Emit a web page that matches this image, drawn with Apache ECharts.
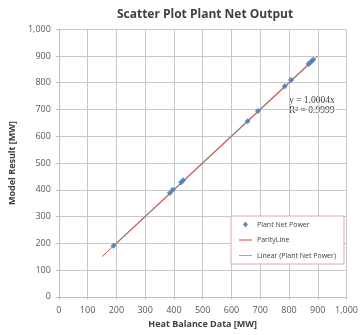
<!DOCTYPE html>
<html><head><meta charset="utf-8">
<script src="https://cdn.jsdelivr.net/npm/echarts@6/dist/echarts.min.js"></script>
<style>html,body{margin:0;padding:0;background:#fff}#c{width:361px;height:335px}</style>
</head><body><div id="c"></div>
<script>
const heatBalance = [190, 386, 396, 425, 432, 656, 692, 785, 807, 868, 874, 880, 884];
const modelResult = [191, 388, 400, 428, 436, 656, 694, 787, 810, 870, 876, 882, 886];
const parityX = [150, 900];
const trendSlope = 1.0004;
const axisTicks = [0, 100, 200, 300, 400, 500, 600, 700, 800, 900, 1000];

const pts = heatBalance.map((x, i) => [x, modelResult[i]]);
const parity = parityX.map(x => [x, x]);
const xmin = Math.min(...heatBalance), xmax = Math.max(...heatBalance);
const trend = [[xmin, xmin * trendSlope], [xmax, xmax * trendSlope]];
const fmt = v => v.toLocaleString('en-US');
const chart = echarts.init(document.getElementById('c'));
const axisCommon = {
  min: axisTicks[0], max: axisTicks[axisTicks.length - 1], interval: 100,
  axisLine: {show: true, lineStyle: {color: '#bfbfbf'}},
  axisTick: {show: true, length: 3, lineStyle: {color: '#bfbfbf'}},
  splitLine: {show: true, lineStyle: {color: '#c8c8c8', width: 1}},
  axisLabel: {color: '#595959', fontSize: 9, fontFamily: 'Open Sans', formatter: fmt},
  nameTextStyle: {color: '#404040', fontSize: 9, fontWeight: 'bold', fontFamily: 'Open Sans'},
  nameLocation: 'middle'
};
const linePath = 'path://M0,0H20V1.6H0Z';
const diamondPath = 'path://M0,3L2.5,0L5,3L2.5,6Z';
chart.setOption({
  animation: false,
  title: {text: 'Scatter Plot Plant Net Output', left: 200, top: 4, textAlign: 'center',
    textStyle: {fontSize: 12, fontWeight: 'bold', color: '#404040', fontFamily: 'Open Sans'}},
  grid: {left: 53.5, right: 11, top: 29.2, bottom: 38.2},
  xAxis: Object.assign({}, axisCommon, {type: 'value', name: 'Heat Balance Data [MW]', nameGap: 22,
    axisLabel: Object.assign({}, axisCommon.axisLabel, {margin: 9})}),
  yAxis: Object.assign({}, axisCommon, {type: 'value', name: 'Model Result [MW]', nameGap: 37,
    axisLabel: Object.assign({}, axisCommon.axisLabel, {margin: 8})}),
  legend: {
    orient: 'vertical', left: 231, top: 216,
    backgroundColor: '#fff', borderColor: '#f0a0a0', borderWidth: 1,
    padding: [5, 8, 5, 8], itemGap: 8.5, itemWidth: 13, itemHeight: 6,
    textStyle: {fontSize: 7, color: '#404040', fontFamily: 'Open Sans'},
    data: [
      {name: 'Plant Net Power', icon: diamondPath},
      {name: 'ParityLine', icon: linePath},
      {name: 'Linear (Plant Net Power)', icon: linePath}
    ]
  },
  graphic: [{
    type: 'text', left: 289, top: 95,
    style: {text: 'y = 1.0004x\nR² = 0.9999', fill: '#404040', font: '9.5px "Liberation Serif"', lineHeight: 10.5}
  }],
  series: [
    {name: 'Linear (Plant Net Power)', type: 'line', data: trend, symbol: 'none',
      lineStyle: {color: '#a6a6a6', width: 1.5}, itemStyle: {color: '#a6a6a6'}, z: 1},
    {name: 'ParityLine', type: 'line', data: parity, symbol: 'none',
      lineStyle: {color: '#e04848', width: 1}, itemStyle: {color: '#e04848'}, z: 2},
    {name: 'Plant Net Power', type: 'scatter', data: pts, symbol: 'diamond', symbolSize: 6,
      itemStyle: {color: '#4f81bd', opacity: 0.9}, z: 3}
  ]
});
</script></body></html>
